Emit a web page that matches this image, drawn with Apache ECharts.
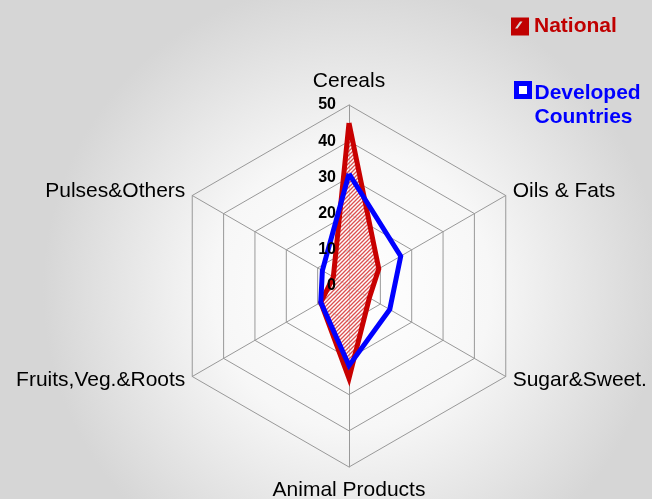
<!DOCTYPE html>
<html>
<head>
<meta charset="utf-8">
<script src="https://cdn.jsdelivr.net/npm/echarts@6/dist/echarts.min.js"></script>
<style>
    html, body { margin: 0; padding: 0; }
    #container_radar { width: 652px; height: 499px; }
</style>
</head>
<body>
<div id="container_radar"></div>
<script>
// clockwise from the top, as in the picture
const categories = ['Cereals', 'Oils & Fats', 'Sugar&Sweet.', 'Animal Products', 'Fruits,Veg.&Roots', 'Pulses&Others'];
const nationalValues = [45, 9.5, 6.5, 25.5, 9, 5];
const developedValues = [31, 16.5, 13, 22, 9, 8.5];
const axisMax = 50;

// echarts lays indicators out counter-clockwise
const order = [0, 5, 4, 3, 2, 1];

function hatchPattern() {
    const c = document.createElement('canvas');
    c.width = 4;
    c.height = 4;
    const ctx = c.getContext('2d');
    ctx.fillStyle = 'rgba(255,255,255,0.6)';
    ctx.fillRect(0, 0, 4, 4);
    ctx.strokeStyle = '#dc5050';
    ctx.lineWidth = 1.3;
    ctx.beginPath();
    ctx.moveTo(-1, 5); ctx.lineTo(5, -1);
    ctx.moveTo(-1, 1); ctx.lineTo(1, -1);
    ctx.moveTo(3, 5); ctx.lineTo(5, 3);
    ctx.stroke();
    return c;
}

function drawRadarChart() {
    const myChart = echarts.init(document.getElementById('container_radar'));
    const font = 'Arial, "Liberation Sans", sans-serif';

    const indicator = order.map(function (i) {
        const ind = { name: categories[i], max: axisMax, min: 0 };
        if (i === 0) ind.nameGap = 13;
        if (i === 3) ind.nameGap = 13;
        return ind;
    });
    // a second, bare radar only carries the value labels above the series
    const labelIndicator = order.map(function (i) {
        const ind = { name: '', max: axisMax, min: 0 };
        if (i === 0) {
            ind.axisLabel = {
                show: true,
                showMinLabel: true,
                color: '#000',
                fontWeight: 'bold',
                fontSize: 16,
                fontFamily: font,
                margin: 13
            };
        }
        return ind;
    });

    const nationalData = [{
        name: 'National',
        value: order.map(function (i) { return nationalValues[i]; })
    }];

    const option = {
        animation: false,
        backgroundColor: {
            type: 'radial',
            x: 0.54,
            y: 0.58,
            r: 0.62,
            colorStops: [
                { offset: 0, color: '#ffffff' },
                { offset: 0.45, color: '#f7f7f7' },
                { offset: 1, color: '#d6d6d6' }
            ]
        },
        legend: [{
            orient: 'vertical',
            left: 511,
            top: 16,
            padding: 0,
            itemWidth: 18,
            itemHeight: 18,
            selectedMode: false,
            textStyle: { color: '#c00000', fontSize: 21, fontWeight: 'bold', fontFamily: font },
            data: [{
                name: 'National',
                icon: 'path://M0 0H18V18H0Z M9 4L4 11L6.5 11L11.5 4Z',
                itemStyle: { color: '#c00000', borderWidth: 0 }
            }]
        }, {
            orient: 'vertical',
            left: 514,
            top: 61,
            padding: 0,
            itemWidth: 13,
            itemHeight: 13,
            selectedMode: false,
            // a blank first line keeps the icon level with "Developed"
            formatter: function () { return '{e| }\n{t|Developed}\n{t|Countries}'; },
            textStyle: {
                color: '#0000ff', fontSize: 21, fontWeight: 'bold', fontFamily: font,
                rich: {
                    e: { lineHeight: 30, fontSize: 10 },
                    t: { lineHeight: 24, color: '#0000ff', fontSize: 21, fontWeight: 'bold', fontFamily: font }
                }
            },
            data: [{
                name: 'Developed Countries',
                icon: 'rect',
                itemStyle: { color: '#ffffff', borderColor: '#0000ff', borderWidth: 5 }
            }]
        }],
        radar: [{
            center: [349, 286],
            radius: 181,
            startAngle: 90,
            shape: 'polygon',
            splitNumber: 5,
            nameGap: 8,
            axisName: {
                color: '#000',
                fontSize: 21,
                fontFamily: font
            },
            axisLine: { lineStyle: { color: '#999999', width: 1 } },
            splitLine: { lineStyle: { color: '#999999', width: 1 } },
            splitArea: { show: false },
            axisLabel: { show: false },
            indicator: indicator
        }, {
            center: [349, 286],
            radius: 181,
            startAngle: 90,
            shape: 'polygon',
            splitNumber: 5,
            z: 10,
            axisName: { show: false },
            axisLine: { show: false },
            splitLine: { show: false },
            splitArea: { show: false },
            axisLabel: { show: false },
            indicator: labelIndicator
        }],
        series: [{
            // hatched fill only
            type: 'radar',
            name: 'National',
            radarIndex: 0,
            symbol: 'none',
            lineStyle: { width: 0, opacity: 0 },
            itemStyle: { color: '#c80000' },
            areaStyle: { color: { image: hatchPattern(), repeat: 'repeat' }, opacity: 1 },
            data: nationalData
        }, {
            type: 'radar',
            name: 'National',
            radarIndex: 0,
            symbol: 'none',
            lineStyle: { color: '#c80000', width: 5, join: 'miter' },
            itemStyle: { color: '#c80000' },
            data: nationalData
        }, {
            type: 'radar',
            name: 'Developed Countries',
            radarIndex: 0,
            symbol: 'none',
            lineStyle: { color: '#0000ff', width: 5, join: 'miter' },
            itemStyle: { color: '#0000ff' },
            data: [{
                name: 'Developed Countries',
                value: order.map(function (i) { return developedValues[i]; })
            }]
        }]
    };
    myChart.setOption(option);
}

drawRadarChart();
</script>
</body>
</html>
